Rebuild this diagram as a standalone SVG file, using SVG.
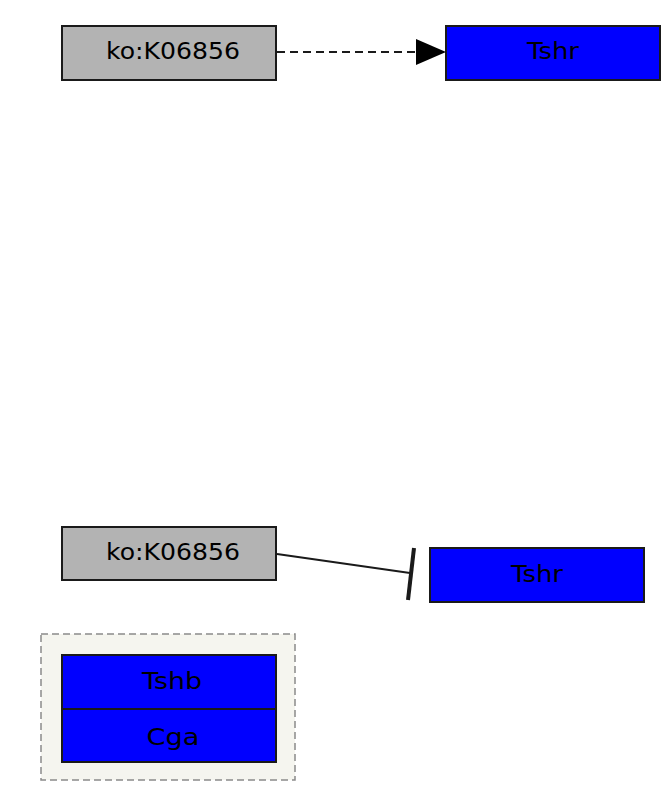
<svg xmlns="http://www.w3.org/2000/svg" width="666" height="785" viewBox="0 0 666 785">
<style>
.gray{fill:#b3b3b3;stroke:#1a1a1a;stroke-width:2}
.blue{fill:#0000ff;stroke:#1a1a1a;stroke-width:2}
.lbl{font-family:"DejaVu Sans","Liberation Sans",sans-serif;font-size:23px;fill:#000;text-anchor:middle}
.edge{stroke:#1a1a1a;stroke-width:2;fill:none}
</style>
<defs>
<marker id="arr" viewBox="0 0 30 26" refX="30" refY="13" markerWidth="30" markerHeight="26" markerUnits="userSpaceOnUse" orient="auto">
<path d="M0,0 L30,13 L0,26 Z" fill="#000"/>
</marker>
</defs>
<rect width="666" height="785" fill="#fff"/>
<g id="group1">
<rect x="41" y="634" width="254" height="146" fill="#f5f5ef" stroke="#8a8a8a" stroke-width="1.5" stroke-dasharray="7,4"/>
</g>
<g id="ko1"><rect class="gray" x="62" y="26" width="214" height="54"/><text class="lbl" x="173" y="59" textLength="134" lengthAdjust="spacingAndGlyphs">ko:K06856</text></g>
<g id="tshr1"><rect class="blue" x="446" y="26" width="214" height="54"/><text class="lbl" x="553" y="59" textLength="52" lengthAdjust="spacingAndGlyphs">Tshr</text></g>
<g id="ko2"><rect class="gray" x="62" y="527" width="214" height="53"/><text class="lbl" x="173" y="560" textLength="134" lengthAdjust="spacingAndGlyphs">ko:K06856</text></g>
<g id="tshr2"><rect class="blue" x="430" y="548" width="214" height="54"/><text class="lbl" x="537" y="582" textLength="52" lengthAdjust="spacingAndGlyphs">Tshr</text></g>
<g id="tshb"><rect class="blue" x="62" y="655" width="214" height="54"/><text class="lbl" x="172" y="689" textLength="60" lengthAdjust="spacingAndGlyphs">Tshb</text></g>
<g id="cga"><rect class="blue" x="62" y="709" width="214" height="53" fill="#0a0aff"/><text class="lbl" x="173" y="745" textLength="53" lengthAdjust="spacingAndGlyphs">Cga</text></g>
<g id="connectors">
<line class="edge" x1="277" y1="52" x2="446" y2="52" stroke-dasharray="8,5" marker-end="url(#arr)"/>
<line class="edge" x1="277" y1="554" x2="410" y2="573"/>
<line x1="414" y1="548" x2="408" y2="600" stroke="#1a1a1a" stroke-width="4"/>
</g>
</svg>
